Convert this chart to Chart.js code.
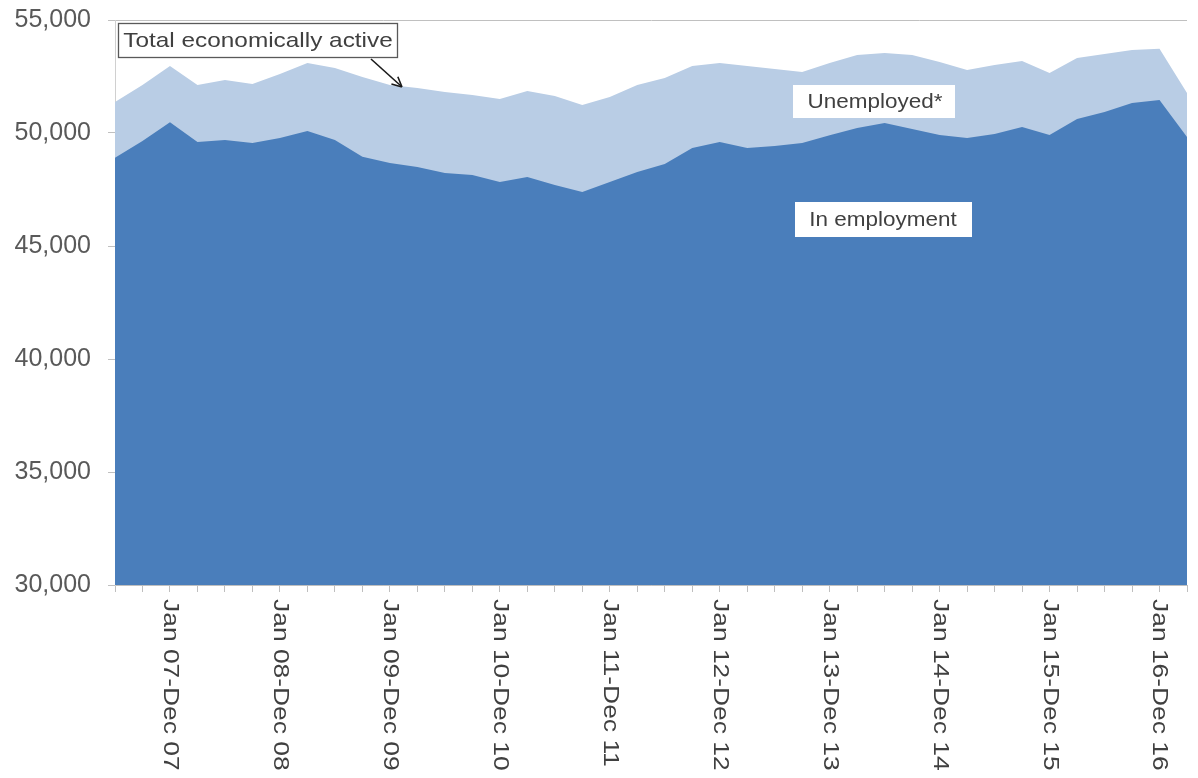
<!DOCTYPE html>
<html>
<head>
<meta charset="utf-8">
<script src="https://cdn.jsdelivr.net/npm/chart.js@4"></script>
<style>
html,body{margin:0;padding:0;background:#fff;}
#wrap{width:1198px;height:778px;position:relative;}
</style>
</head>
<body>
<div id="wrap"><canvas id="c" width="1198" height="778"></canvas></div>
<script>
const quarters = [
  'Q1 07','Q2 07','Q3 07','Q4 07','Q1 08','Q2 08','Q3 08','Q4 08',
  'Q1 09','Q2 09','Q3 09','Q4 09','Q1 10','Q2 10','Q3 10','Q4 10',
  'Q1 11','Q2 11','Q3 11','Q4 11','Q1 12','Q2 12','Q3 12','Q4 12',
  'Q1 13','Q2 13','Q3 13','Q4 13','Q1 14','Q2 14','Q3 14','Q4 14',
  'Q1 15','Q2 15','Q3 15','Q4 15','Q1 16','Q2 16','Q3 16','Q4 16'
];
const yearLabels = [
  'Jan 07-Dec 07','Jan 08-Dec 08','Jan 09-Dec 09','Jan 10-Dec 10','Jan 11-Dec 11',
  'Jan 12-Dec 12','Jan 13-Dec 13','Jan 14-Dec 14','Jan 15-Dec 15','Jan 16-Dec 16'
];
const yearLabelQuarter = 'Q3';
const inEmployment = [
  48900, 49650, 50480, 49600, 49690, 49560, 49780, 50090, 49690, 48950,
  48670, 48500, 48230, 48140, 47830, 48050, 47700, 47390, 47830, 48270,
  48630, 49340, 49600, 49340, 49420, 49560, 49900, 50220, 50440, 50180,
  49910, 49780, 49960, 50270, 49910, 50620, 50930, 51330, 51460, 49820
];
const totalActive = [
  51370, 52120, 52960, 52120, 52350, 52170, 52610, 53100, 52880, 52480,
  52120, 51990, 51810, 51680, 51500, 51860, 51640, 51240, 51590, 52120,
  52430, 52960, 53100, 52960, 52830, 52700, 53100, 53450, 53540, 53450,
  53140, 52790, 53010, 53190, 52650, 53320, 53500, 53670, 53730, 51770
];
const yTicks = { min: 30000, max: 55000, step: 5000 };

const FONT = '"Liberation Sans", Arial, sans-serif';

function stretchedText(ctx, text, x, y, sx) {
  ctx.save();
  ctx.translate(x, y);
  ctx.scale(sx, 1);
  ctx.fillText(text, 0, 0);
  ctx.restore();
}

const overlay = {
  id: 'overlay',
  afterDraw(chart) {
    const ctx = chart.ctx;
    const x = chart.scales.x;
    const ca = chart.chartArea;
    ctx.save();
    // rotated x labels (reading top to bottom)
    ctx.fillStyle = '#404040';
    ctx.font = '22px ' + FONT;
    ctx.textAlign = 'left';
    ctx.textBaseline = 'middle';
    yearLabels.forEach((lab) => {
      const idx = quarters.indexOf(yearLabelQuarter + ' ' + lab.slice(-2));
      const px = x.getPixelForValue(idx);
      ctx.save();
      ctx.translate(px, ca.bottom + 14);
      ctx.rotate(Math.PI / 2);
      ctx.scale(1.2, 1);
      ctx.fillText(lab, 0, 0);
      ctx.restore();
    });

    // annotation: Total economically active
    ctx.font = '21px ' + FONT;
    ctx.textBaseline = 'middle';
    ctx.textAlign = 'center';
    ctx.fillStyle = '#ffffff';
    ctx.fillRect(118, 23, 279, 34);
    ctx.strokeStyle = '#595959';
    ctx.lineWidth = 1.3;
    ctx.strokeRect(118.5, 23.5, 279, 34);
    ctx.fillStyle = '#404040';
    stretchedText(ctx, 'Total economically active', 258, 41, 1.16);

    // arrow
    ctx.strokeStyle = '#1a1a1a';
    ctx.lineWidth = 1.6;
    ctx.beginPath();
    ctx.moveTo(371, 59);
    ctx.lineTo(401, 86);
    ctx.stroke();
    const ang = Math.atan2(86 - 59, 401 - 371);
    ctx.beginPath();
    ctx.moveTo(402, 87);
    ctx.lineTo(402 - 11 * Math.cos(ang - 0.45), 87 - 11 * Math.sin(ang - 0.45));
    ctx.moveTo(402, 87);
    ctx.lineTo(402 - 11 * Math.cos(ang + 0.45), 87 - 11 * Math.sin(ang + 0.45));
    ctx.stroke();

    // Unemployed*
    ctx.font = '21px ' + FONT;
    ctx.fillStyle = '#ffffff';
    ctx.fillRect(793, 85, 162, 33);
    ctx.fillStyle = '#404040';
    stretchedText(ctx, 'Unemployed*', 875, 102, 1.07);

    // In employment
    ctx.fillStyle = '#ffffff';
    ctx.fillRect(795, 202, 177, 35);
    ctx.fillStyle = '#404040';
    stretchedText(ctx, 'In employment', 883, 220, 1.07);
    ctx.restore();
  }
};

new Chart(document.getElementById('c'), {
  type: 'line',
  data: {
    labels: quarters,
    datasets: [
      {
        label: 'In employment',
        data: inEmployment,
        backgroundColor: '#4a7ebb',
        borderWidth: 0,
        pointRadius: 0,
        fill: 'start',
        tension: 0
      },
      {
        label: 'Total economically active',
        data: totalActive,
        backgroundColor: '#b9cde5',
        borderWidth: 0,
        pointRadius: 0,
        fill: 'start',
        tension: 0
      }
    ]
  },
  options: {
    responsive: false,
    animation: false,
    layout: { padding: { top: 20, right: 11, left: 0, bottom: 0 } },
    plugins: { legend: { display: false }, tooltip: { enabled: false } },
    scales: {
      x: {
        offset: false,
        grid: { display: true, drawOnChartArea: false, drawTicks: true, tickLength: 7, color: '#bfbfbf' },
        border: { display: true, color: '#bfbfbf' },
        ticks: { autoSkip: false, maxRotation: 0, callback: () => '' },
        afterFit(s) { s.height = 193; }
      },
      y: {
        min: yTicks.min,
        max: yTicks.max,
        ticks: {
          stepSize: yTicks.step,
          color: '#595959',
          font: { family: FONT, size: 25, lineHeight: 0.2 },
          padding: 17,
          callback: v => v.toLocaleString('en-US')
        },
        grid: { color: '#c0c0c0', tickLength: 7, drawTicks: true },
        border: { display: true, color: '#d0d0d0' },
        afterFit(s) { s.width = 115; }
      }
    }
  },
  plugins: [overlay]
});
</script>
</body>
</html>
